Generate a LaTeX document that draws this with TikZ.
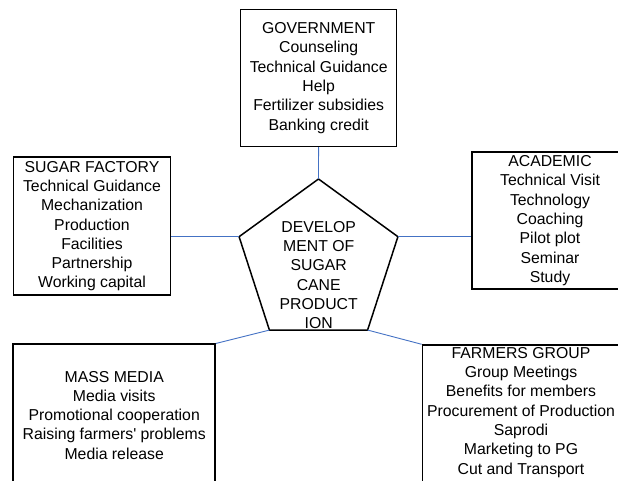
\documentclass[tikz,border=0pt]{standalone}
\usepackage{fontspec}
\setmainfont{Liberation Sans}[Ligatures=TeXOff]
\usetikzlibrary{shapes.geometric,positioning,calc}
\definecolor{linkblue}{RGB}{68,114,196}

\begin{document}
\begin{tikzpicture}[x=1pt,y=-1pt,
  actor/.style={rectangle,draw,line width=1.5pt,align=center,inner sep=0pt,font=\fontsize{15.8}{19.3}\selectfont},
  plain/.style={align=center,inner sep=0pt,font=\fontsize{15.8}{19.3}\selectfont},
  hub/.style={regular polygon,regular polygon sides=5,draw,line width=1.5pt,minimum size=167pt,inner sep=0pt,outer sep=0pt},
  link/.style={draw=linkblue,line width=0.9pt}]

  \useasboundingbox (0,0) rectangle (618,481);
  \clip (0,0) rectangle (618,481);

  % Partner boxes
  \node[actor,minimum width=156pt,minimum height=137pt] (gov) at (318.7,78) {
    GOVERNMENT\\
    Counseling\\
    Technical Guidance\\
    Help\\
    Fertilizer subsidies\\
    Banking credit
  };

  \node[actor,minimum width=157pt,minimum height=138pt] (factory) at (92,226.2) {
    SUGAR FACTORY\\
    Technical Guidance\\
    Mechanization\\
    Production\\
    Facilities\\
    Partnership\\
    Working capital
  };

  \node[actor,minimum width=156pt,minimum height=137pt] (academic) at (550,220.7) {
    ACADEMIC\\
    Technical Visit\\
    Technology\\
    Coaching\\
    Pilot plot\\
    Seminar\\
    Study
  };

  \node[actor,minimum width=202pt,minimum height=142pt] (media) at (114.2,415.2) {
    MASS MEDIA\\
    Media visits\\
    Promotional cooperation\\
    Raising farmers' problems\\
    Media release
  };

  \node[actor,anchor=north west,minimum width=220pt,minimum height=150pt] (farmers) at (421.7,344.3) {};
  \node[plain,anchor=north] (farmerstext) at (521,347) {
    FARMERS GROUP\\
    Group Meetings\\
    Benefits for members\\
    Procurement of Production\\
    Saprodi\\
    Marketing to PG\\
    Cut and Transport
  };

  % Central pentagon
  \node[hub] (dev) at (318.5,262.5) {};
  \node[plain] (devtext) at (318.7,275) {
    DEVELOP\\
    MENT OF\\
    SUGAR\\
    CANE\\
    PRODUCT\\
    ION
  };

  % Links to the centre
  \draw[link] (gov) -- (dev.corner 1);
  \draw[link] (factory.east |- dev.corner 2) -- (dev.corner 2);
  \draw[link] (dev.corner 5) -- (academic.west |- dev.corner 5);
  \draw[link] (media.north east) -- (dev.corner 3);
  \draw[link] (farmers.north west) -- (dev.corner 4);

\end{tikzpicture}
\end{document}
